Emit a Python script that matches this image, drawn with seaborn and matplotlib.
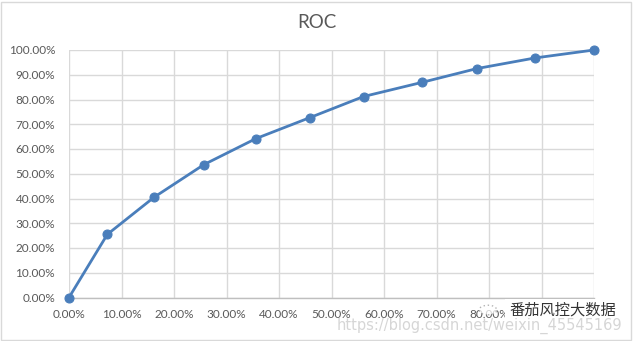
import matplotlib
matplotlib.use("Agg")
import matplotlib.pyplot as plt
from matplotlib.ticker import FuncFormatter, MultipleLocator
from matplotlib.patches import Rectangle, Circle
import seaborn as sns
import pandas as pd

# ROC curve points (false positive rate, true positive rate)
fpr = [0.0, 0.073, 0.162, 0.257, 0.356, 0.459, 0.561, 0.672, 0.777, 0.888, 1.0]
tpr = [0.0, 0.255, 0.405, 0.537, 0.642, 0.727, 0.812, 0.869, 0.925, 0.968, 1.0]

df = pd.DataFrame({"fpr": fpr, "tpr": tpr})

sns.set_style("white")
plt.rcParams["font.family"] = ["Lato", "Noto Sans CJK SC", "DejaVu Sans"]

W, H = 633, 341
fig = plt.figure(figsize=(W / 100, H / 100), dpi=100)
ax = fig.add_axes([69 / W, 1 - 297.5 / H, 525 / W, 247.5 / H])

line_color = "#4A7EBB"
sns.lineplot(data=df, x="fpr", y="tpr", ax=ax, color=line_color, linewidth=2,
             marker="o", markersize=6.5, markeredgecolor=line_color, zorder=3,
             clip_on=False)

ax.set_xlim(0, 1)
ax.set_ylim(0, 1)
ax.xaxis.set_major_locator(MultipleLocator(0.1))
ax.yaxis.set_major_locator(MultipleLocator(0.1))
pct = FuncFormatter(lambda v, _: f"{v * 100:.2f}%")
ax.xaxis.set_major_formatter(pct)
ax.yaxis.set_major_formatter(pct)

ax.grid(True, color="#D9D9D9", linewidth=1)
for side in ["top", "right", "left"]:
    ax.spines[side].set_visible(False)
ax.spines["bottom"].set_color("#BFBFBF")
ax.spines["bottom"].set_linewidth(1)
ax.tick_params(axis="both", length=0, labelsize=8.5, labelcolor="#595959")
ax.tick_params(axis="x", pad=8)
ax.tick_params(axis="y", pad=10)
ax.set_xlabel("")
ax.set_ylabel("")

fig.text(0.5, 1 - 22 / H, "ROC", ha="center", va="center",
         fontsize=13.5, color="#595959")

# thin frame around the chart area
fig.patches.append(Rectangle((0.002, 0.004), 0.995, 0.99, transform=fig.transFigure,
                             fill=False, edgecolor="#D9D9D9", linewidth=1))

# watermark: logo, account name and blog address
fig.patches.append(Circle((488 / W, 1 - 310 / H), 0.014, transform=fig.transFigure,
                          facecolor="white", alpha=0.75, edgecolor="#9A9A9A",
                          linestyle=(0, (1, 2)), linewidth=1, zorder=5))
fig.text(616 / W, 1 - 310 / H, "番茄风控大数据", ha="right", va="center",
         fontsize=11, color="#333333", zorder=6,
         bbox=dict(boxstyle="square,pad=0.25", facecolor="white", edgecolor="none"))
fig.text(622 / W, 1 - 326 / H, "https://blog.csdn.net/weixin_45545169",
         ha="right", va="center", fontsize=10.5, color="#CFCFCF", alpha=0.85,
         family=["Liberation Sans Narrow", "DejaVu Sans"], zorder=7)

fig.savefig("out.png", dpi=100)
